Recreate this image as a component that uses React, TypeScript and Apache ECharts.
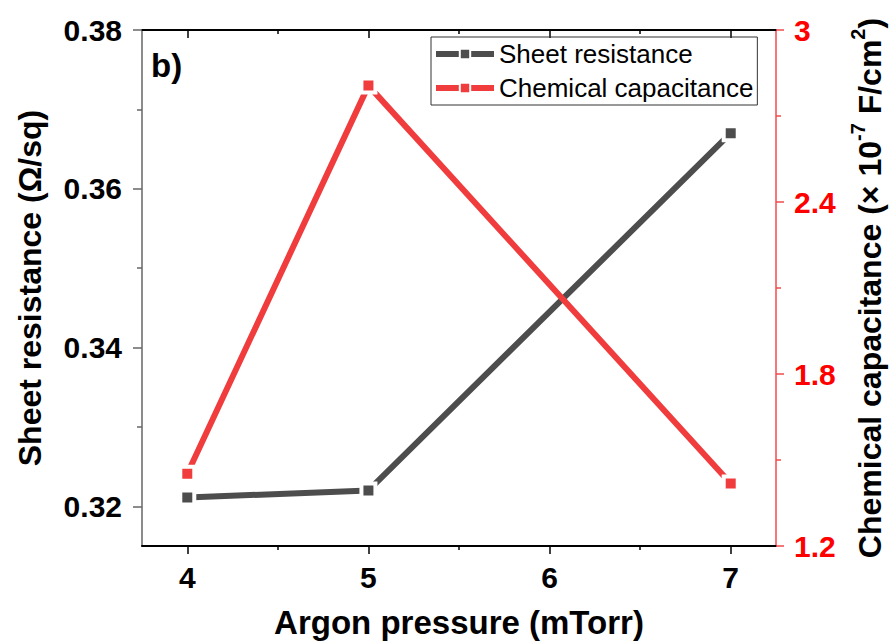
import React, { useEffect, useRef } from "react";
import * as echarts from "echarts";

const pressures = [4, 5, 7];
const sheetResistance = [0.3211, 0.322, 0.367];
const chemCapacitance = [1.452, 2.806, 1.418];

const xMajorTicks = [4, 5, 6, 7];
const xMinorTicks = [4.5, 5.5, 6.5];
const leftMajorTicks = [0.32, 0.34, 0.36, 0.38];
const leftMinorTicks = [0.33, 0.35, 0.37];

const FONT = '"Liberation Sans", Arial, sans-serif';
const GRAY = "#4d4d4d";
const RED = "#f03c3c";

export default function App() {
  const ref = useRef<HTMLDivElement>(null);
  useEffect(() => {
    if (!ref.current) return;
    const chart = echarts.init(ref.current, undefined, { renderer: "svg", width: 894, height: 644 });
    const labelStyle = { fontFamily: FONT, fontSize: 30, fontWeight: "bold", color: "#000" };
    const xBase = { type: "value", min: 3.75, max: 7.25, splitLine: { show: false } };
    chart.setOption({
      animation: false,
      backgroundColor: "#fff",
      textStyle: { fontFamily: FONT },
      grid: { left: 142, top: 30, width: 642, height: 517, containLabel: false },
      legend: {
        left: 431,
        top: 37,
        orient: "vertical",
        selectedMode: false,
        borderColor: "#333",
        borderWidth: 1,
        padding: [4, 4, 4, 2],
        itemWidth: 58,
        itemHeight: 13,
        itemGap: 8,
        lineStyle: { width: 6 },
        textStyle: { fontFamily: FONT, fontSize: 26, color: "#000" },
        data: ["Sheet resistance", "Chemical capacitance"],
      },
      xAxis: [
        {
          ...xBase,
          position: "bottom",
          name: "Argon pressure (mTorr)",
          nameLocation: "middle",
          nameGap: 60,
          nameTextStyle: { fontFamily: FONT, fontSize: 33, fontWeight: "bold", color: "#000" },
          axisLine: { show: true, onZero: false, lineStyle: { color: "#000", width: 2 } },
          axisTick: { show: true, customValues: xMajorTicks, length: 8, lineStyle: { color: "#000", width: 1.5 } },
          axisLabel: { ...labelStyle, customValues: xMajorTicks, margin: 16, formatter: (v: number) => String(v) },
        },
        {
          ...xBase,
          position: "bottom",
          axisLine: { show: false, onZero: false },
          axisTick: { show: true, customValues: xMinorTicks, length: 4, lineStyle: { color: "#000", width: 1.5 } },
          axisLabel: { show: false },
        },
        {
          ...xBase,
          position: "top",
          axisLine: { show: true, onZero: false, lineStyle: { color: "#000", width: 2 } },
          axisTick: { show: true, inside: true, customValues: xMajorTicks, length: 8, lineStyle: { color: "#000", width: 1.5 } },
          axisLabel: { show: false },
        },
        {
          ...xBase,
          position: "top",
          axisLine: { show: false, onZero: false },
          axisTick: { show: true, inside: true, customValues: xMinorTicks, length: 4, lineStyle: { color: "#000", width: 1.5 } },
          axisLabel: { show: false },
        },
      ],
      yAxis: [
        {
          type: "value",
          position: "left",
          min: 0.315,
          max: 0.38,
          splitLine: { show: false },
          name: "Sheet resistance (Ω/sq)",
          nameLocation: "middle",
          nameRotate: 90,
          nameGap: 96,
          nameTextStyle: { fontFamily: FONT, fontSize: 32, fontWeight: "bold", color: "#000" },
          axisLine: { show: true, onZero: false, lineStyle: { color: "#666", width: 1.5 } },
          axisTick: { show: true, customValues: leftMajorTicks, length: 9, lineStyle: { color: "#666", width: 1.5 } },
          axisLabel: { ...labelStyle, customValues: leftMajorTicks, margin: 20, formatter: (v: number) => v.toFixed(2) },
        },
        {
          type: "value",
          position: "left",
          min: 0.315,
          max: 0.38,
          splitLine: { show: false },
          axisLine: { show: false, onZero: false },
          axisTick: { show: true, customValues: leftMinorTicks, length: 5, lineStyle: { color: "#666", width: 1.5 } },
          axisLabel: { show: false },
        },
        {
          type: "value",
          position: "right",
          min: 1.2,
          max: 3,
          interval: 0.6,
          splitLine: { show: false },
          name: "{a|Chemical capacitance (× 10}{s|-7}{a| F/cm}{s|2}{a|)}",
          nameLocation: "middle",
          nameRotate: 90,
          nameGap: 72,
          nameTextStyle: {
            fontFamily: FONT,
            fontSize: 32,
            fontWeight: "bold",
            color: "#000",
            rich: {
              a: { fontFamily: FONT, fontSize: 32, fontWeight: "bold", color: "#000", lineHeight: 38, verticalAlign: "bottom" },
              s: { fontFamily: FONT, fontSize: 20, fontWeight: "bold", color: "#000", lineHeight: 38, verticalAlign: "top" },
            },
          },
          axisLine: { show: true, onZero: false, lineStyle: { color: "#f24a4a", width: 1.5 } },
          axisTick: { show: true, length: 8, lineStyle: { color: "#f24a4a", width: 1.5 } },
          minorTick: { show: true, splitNumber: 2, length: 5, lineStyle: { color: "#f24a4a", width: 1.5 } },
          axisLabel: {
            fontFamily: FONT,
            fontSize: 30,
            fontWeight: "bold",
            color: "#ff0000",
            margin: 18,
            formatter: (v: number) => String(Math.round(v * 10) / 10),
          },
        },
      ],
      series: [
        {
          name: "Sheet resistance",
          type: "line",
          xAxisIndex: 0,
          yAxisIndex: 0,
          data: pressures.map((p, i) => [p, sheetResistance[i]]),
          symbol: "rect",
          symbolSize: 14,
          lineStyle: { color: GRAY, width: 6 },
          itemStyle: { color: GRAY, borderColor: "#fff", borderWidth: 4 },
          z: 2,
        },
        {
          name: "Chemical capacitance",
          type: "line",
          xAxisIndex: 0,
          yAxisIndex: 2,
          data: pressures.map((p, i) => [p, chemCapacitance[i]]),
          symbol: "rect",
          symbolSize: 14,
          lineStyle: { color: RED, width: 6 },
          itemStyle: { color: RED, borderColor: "#fff", borderWidth: 4 },
          z: 3,
        },
      ],
      graphic: [
        {
          type: "text",
          left: 151,
          top: 49,
          style: { text: "b)", fontFamily: FONT, fontSize: 33, fontWeight: "bold", fill: "#000" },
        },
      ],
    });
    return () => chart.dispose();
  }, []);
  return <div ref={ref} style={{ position: "fixed", left: 0, top: 0, width: 894, height: 644 }} />;
}
